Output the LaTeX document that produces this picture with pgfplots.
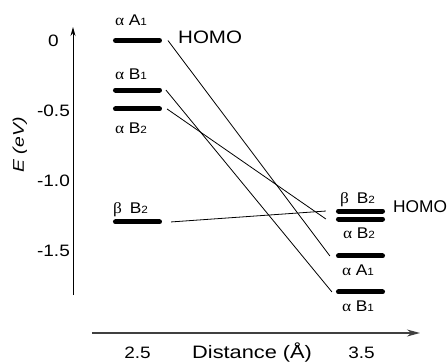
\documentclass[border=0pt]{standalone}
\usepackage{pgfplots}
\pgfplotsset{compat=1.18}
\usepackage{fontspec}
\setmainfont{Liberation Sans}
\newfontfamily\gr{Liberation Serif}
\usetikzlibrary{arrows.meta}
\usepackage{graphicx}
\newcommand\sub[1]{{\fontsize{10.5}{11}\selectfont #1}}
\newcommand\lev[3]{\scalebox{1.12}[1]{{\gr #1}\hspace{#3}#2}}
\newcommand\tl[1]{\scalebox{1.15}[1]{#1}}
\newcommand\ytl[1]{\makebox[32pt][c]{\tl{#1}}}
\tikzset{lbl/.style={anchor=base west, inner sep=0pt, font=\fontsize{15.5}{17}\selectfont}}
\begin{document}
\begin{tikzpicture}
\begin{axis}[
 scale only axis, width=372pt, height=306pt,
 xmin=2.2121, xmax=3.8728, ymin=-2.0893, ymax=0.0964,
 clip=false,
 axis line style={draw=none},
 tick style={draw=none},
 xtick={2.5,3.5}, xticklabels={\tl{2.5},\tl{3.5}},
 ytick={0,-0.5,-1,-1.5}, yticklabels={\ytl{0},\ytl{-0.5},\ytl{-1.0},\ytl{-1.5}},
 xtick pos=bottom, ytick pos=left,
 ticklabel style={font=\fontsize{16.5}{19}\selectfont},
 xticklabel style={anchor=base, yshift=-25pt},
]
% energy levels, left (2.5 A)
\addplot[line width=5pt, line cap=round] coordinates {(2.4018,0) (2.5982,0)};
\addplot[line width=5pt, line cap=round] coordinates {(2.4018,-0.354) (2.5982,-0.354)};
\addplot[line width=5pt, line cap=round] coordinates {(2.4018,-0.489) (2.5982,-0.489)};
\addplot[line width=5pt, line cap=round] coordinates {(2.4018,-1.296) (2.5982,-1.296)};
% energy levels, right (3.5 A)
\addplot[line width=5pt, line cap=round] coordinates {(3.3973,-1.218) (3.5938,-1.218)};
\addplot[line width=5pt, line cap=round] coordinates {(3.3973,-1.275) (3.5938,-1.275)};
\addplot[line width=5pt, line cap=round] coordinates {(3.3973,-1.539) (3.5938,-1.539)};
\addplot[line width=5pt, line cap=round] coordinates {(3.3973,-1.796) (3.5938,-1.796)};
% correlation lines
\addplot[line width=0.8pt] coordinates {(2.636,0) (3.359,-1.539)};
\addplot[line width=0.8pt] coordinates {(2.627,-0.354) (3.368,-1.796)};
\addplot[line width=0.8pt] coordinates {(2.632,-0.489) (3.341,-1.275)};
\addplot[line width=0.8pt] coordinates {(2.650,-1.296) (3.341,-1.218)};
% axes
\draw[line width=0.9pt, -{Stealth[length=9pt,width=5pt]}] (axis cs:2.2121,-1.818) -- (axis cs:2.2121,0.0964);
\draw[line width=1.2pt, black!75, -{Stealth[length=13pt,width=7pt]}] (axis cs:2.2969,-2.0893) -- (axis cs:3.7612,-2.0893);
% labels
\node[lbl] at (axis cs:2.3996,0.1057) {\lev{α}{A\sub{1}}{4pt}};
\node[lbl] at (axis cs:2.3996,-0.282) {\lev{α}{B\sub{1}}{4pt}};
\node[lbl] at (axis cs:2.3996,-0.661) {\lev{α}{B\sub{2}}{4pt}};
\node[lbl] at (axis cs:2.3906,-1.239) {\lev{β}{B\sub{2}}{7pt}};
\node[lbl] at (axis cs:3.4040,-1.161) {\lev{β}{B\sub{2}}{7pt}};
\node[lbl] at (axis cs:3.4174,-1.411) {\lev{α}{B\sub{2}}{4pt}};
\node[lbl] at (axis cs:3.4130,-1.682) {\lev{α}{A\sub{1}}{4pt}};
\node[lbl] at (axis cs:3.4130,-1.939) {\lev{α}{B\sub{1}}{4pt}};
\node[anchor=base west, inner sep=0pt, font=\fontsize{18}{20}\selectfont] at (axis cs:2.6808,-0.018) {\scalebox{1.14}[1]{HOMO}};
\node[anchor=base west, inner sep=0pt, font=\fontsize{17}{20}\selectfont] at (axis cs:3.6406,-1.225) {\scalebox{1.02}[1]{HOMO}};
\node[anchor=base west, inner sep=0pt, font=\fontsize{18}{20}\selectfont] at (axis cs:2.7433,-2.268) {\scalebox{1.21}[1]{Distance (Å)}};
\node[rotate=90, inner sep=0pt, font=\fontsize{15.5}{18}\selectfont\itshape] at (axis cs:1.9754,-0.746) {\scalebox{1.25}[1]{E (eV)}};
% page extent
\coordinate (BBsw) at (axis cs:1.8862,-2.2964);
\coordinate (BBne) at (axis cs:3.8862,0.2893);
\end{axis}
\pgfresetboundingbox
\path[use as bounding box] (BBsw) rectangle (BBne);
\end{tikzpicture}
\end{document}
